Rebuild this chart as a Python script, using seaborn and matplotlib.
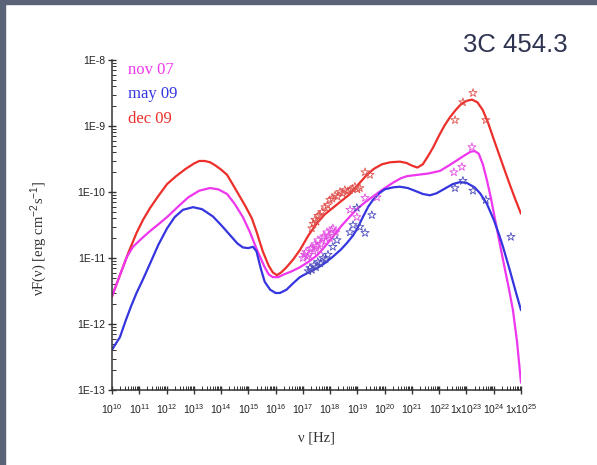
import numpy as np
import pandas as pd
import matplotlib
matplotlib.use("Agg")
import matplotlib.pyplot as plt
import seaborn as sns
from matplotlib.patches import Rectangle
from matplotlib.ticker import FixedLocator, FixedFormatter, NullFormatter

# ---------------- data (log10 values) ----------------
series_names = ["nov 07", "may 09", "dec 09"]

# model curves: log10(nu [Hz]) and log10(nuF(nu) [erg cm^-2 s^-1])
dec09_lognu = [10.0, 10.3, 10.6, 10.9, 11.14, 11.4, 11.7, 12.02, 12.35, 12.7, 13.0, 13.2, 13.4, 13.6,
               13.8, 14.0, 14.22, 14.45, 14.69, 14.9, 15.13, 15.3, 15.53, 15.75, 15.9, 16.05, 16.2,
               16.4, 16.65, 16.89, 17.2, 17.52, 17.8, 18.1, 18.4, 18.73, 19.0, 19.35, 19.6, 19.9,
               20.2, 20.56, 20.8, 21.0, 21.2, 21.4, 21.6, 21.77, 22.0, 22.2, 22.39, 22.6, 22.8,
               23.0, 23.2, 23.4, 23.6, 23.8, 24.0, 24.23, 24.4, 24.6, 24.8, 25.0]
dec09_logf = [-11.58, -11.25, -10.92, -10.62, -10.42, -10.24, -10.06, -9.88, -9.76, -9.65, -9.57, -9.53,
              -9.53, -9.55, -9.6, -9.66, -9.74, -9.9, -10.07, -10.22, -10.4, -10.6, -10.9, -11.12,
              -11.22, -11.26, -11.22, -11.14, -11.02, -10.88, -10.66, -10.47, -10.34, -10.24, -10.14,
              -10.03, -9.9, -9.74, -9.65, -9.58, -9.55, -9.54, -9.56, -9.6, -9.63, -9.58, -9.45,
              -9.33, -9.14, -8.99, -8.87, -8.76, -8.67, -8.62, -8.6, -8.64, -8.76, -8.96, -9.2,
              -9.47, -9.67, -9.9, -10.12, -10.33]

nov07_lognu = [10.0, 10.3, 10.55, 10.77, 11.1, 11.4, 11.7, 12.02, 12.4, 12.8, 13.2, 13.59, 13.9,
               14.22, 14.5, 14.8, 15.05, 15.32, 15.6, 15.75, 15.9, 16.1, 16.3, 16.6, 16.89, 17.2,
               17.52, 17.8, 18.1, 18.4, 18.73, 19.0, 19.3, 19.6, 19.9, 20.3, 20.6, 20.82, 21.2,
               21.6, 22.03, 22.35, 22.65, 22.95, 23.15, 23.3, 23.45, 23.6, 23.75, 23.9, 24.05,
               24.23, 24.4, 24.55, 24.7, 24.85, 25.0]
nov07_logf = [-11.58, -11.25, -10.98, -10.83, -10.7, -10.59, -10.49, -10.38, -10.23, -10.08, -9.98,
              -9.94, -9.96, -10.03, -10.18, -10.38, -10.6, -10.88, -11.14, -11.25, -11.29, -11.29,
              -11.25, -11.2, -11.14, -11.06, -10.96, -10.83, -10.68, -10.52, -10.37, -10.25, -10.15,
              -10.06, -9.97, -9.86, -9.79, -9.76, -9.74, -9.72, -9.68, -9.6, -9.52, -9.44, -9.39,
              -9.38, -9.42, -9.58, -9.82, -10.1, -10.42, -10.8, -11.15, -11.45, -11.78, -12.25, -12.89]

may09_lognu = [10.0, 10.29, 10.5, 10.7, 10.9, 11.14, 11.4, 11.7, 12.02, 12.3, 12.6, 12.97, 13.3,
               13.7, 14.0, 14.3, 14.6, 14.8, 15.0, 15.17, 15.3, 15.45, 15.6, 15.8, 16.0, 16.16,
               16.4, 16.65, 16.89, 17.2, 17.5, 17.8, 18.1, 18.4, 18.6, 18.84, 19.0, 19.2, 19.4,
               19.57, 19.8, 20.0, 20.3, 20.56, 20.85, 21.1, 21.4, 21.66, 21.9, 22.2, 22.5, 22.76,
               23.0, 23.3, 23.5, 23.75, 24.0, 24.2, 24.34, 24.6, 24.8, 25.0]
may09_logf = [-12.39, -12.2, -11.95, -11.73, -11.53, -11.32, -11.08, -10.8, -10.55, -10.38, -10.27,
              -10.23, -10.26, -10.37, -10.5, -10.64, -10.78, -10.84, -10.85, -10.83, -10.9, -11.15,
              -11.36, -11.48, -11.53, -11.53, -11.48, -11.38, -11.29, -11.22, -11.16, -11.08, -10.98,
              -10.87, -10.78, -10.66, -10.55, -10.38, -10.22, -10.12, -10.02, -9.96, -9.93, -9.92,
              -9.94, -9.98, -10.03, -10.05, -10.02, -9.95, -9.88, -9.85, -9.86, -9.93, -10.02,
              -10.18, -10.42, -10.65, -10.83, -11.2, -11.5, -11.79]

# observed points (stars)
dec09_obs_lognu = [17.33, 17.38, 17.44, 17.5, 17.56, 17.63, 17.7, 17.81, 17.9, 17.99, 18.08, 18.18,
                   18.27, 18.36, 18.45, 18.54, 18.64, 18.73, 18.82, 18.91, 19.0, 19.09, 19.28, 19.46,
                   22.58, 22.87, 23.24, 23.71]
dec09_obs_logf = [-10.55, -10.48, -10.42, -10.45, -10.36, -10.35, -10.3, -10.23, -10.2, -10.12, -10.1, -10.05,
                  -10.07, -10.0, -10.02, -9.97, -9.99, -9.97, -9.95, -9.92, -9.96, -9.94, -9.7, -9.74,
                  -8.91, -8.64, -8.5, -8.91]

nov07_obs_lognu = [17.0, 17.06, 17.11, 17.17, 17.22, 17.28, 17.33, 17.39, 17.44, 17.5, 17.55, 17.62,
                   17.66, 17.72, 17.77, 17.83, 17.88, 17.94, 17.99, 18.05, 18.1, 18.21, 18.73, 18.98,
                   19.28, 19.72, 22.54, 22.83, 23.2]
nov07_obs_logf = [-11.0, -10.95, -10.91, -10.98, -10.95, -10.86, -10.85, -10.9, -10.79, -10.82, -10.73, -10.88,
                  -10.79, -10.7, -10.67, -10.75, -10.61, -10.66, -10.7, -10.58, -10.55, -10.61, -10.27, -10.38,
                  -10.09, -10.08, -9.7, -9.62, -9.32]

may09_obs_lognu = [17.2, 17.26, 17.33, 17.41, 17.48, 17.55, 17.64, 17.74, 17.83, 17.92, 18.1, 18.25,
                   18.73, 18.84, 18.98, 19.09, 19.28, 19.53, 22.58, 22.87, 23.24, 23.71, 24.63]
may09_obs_logf = [-11.2, -11.15, -11.18, -11.11, -11.14, -11.06, -11.08, -11.0, -11.02, -10.95, -10.83, -10.73,
                  -10.61, -10.5, -10.24, -10.53, -10.62, -10.35, -9.94, -9.83, -9.98, -10.12, -10.68]

x_tick_labels = ["$10^{10}$", "$10^{11}$", "$10^{12}$", "$10^{13}$", "$10^{14}$", "$10^{15}$",
                 "$10^{16}$", "$10^{17}$", "$10^{18}$", "$10^{19}$", "$10^{20}$", "$10^{21}$",
                 "$10^{22}$", "$1\\mathrm{x}10^{23}$", "$10^{24}$", "$1\\mathrm{x}10^{25}$"]
y_tick_labels = ["1E-13", "1E-12", "1E-11", "1E-10", "1E-9", "1E-8"]

# ---------------- styling ----------------
sns.set_theme(style="white")
plt.rcParams["font.family"] = ["Liberation Sans", "DejaVu Sans"]
plt.rcParams["mathtext.fontset"] = "custom"
plt.rcParams["mathtext.rm"] = "Liberation Sans"
plt.rcParams["mathtext.it"] = "Liberation Sans:italic"

col_line = {"nov 07": "#ee36ee", "may 09": "#3535e0", "dec 09": "#ec2f2a"}
col_star = {"nov 07": "#e24fe2", "may 09": "#4d4dbf", "dec 09": "#e0504c"}

fig = plt.figure(figsize=(5.97, 4.65), dpi=100)
fig.patch.set_facecolor("white")
ax = fig.add_axes([112 / 597, 1 - 390 / 465, (521 - 112) / 597, (390 - 60) / 465])

curves = {
    "nov 07": (nov07_lognu, nov07_logf),
    "may 09": (may09_lognu, may09_logf),
    "dec 09": (dec09_lognu, dec09_logf),
}
obs = {
    "nov 07": (nov07_obs_lognu, nov07_obs_logf),
    "may 09": (may09_obs_lognu, may09_obs_logf),
    "dec 09": (dec09_obs_lognu, dec09_obs_logf),
}

for name in ["dec 09", "nov 07", "may 09"]:
    lx, ly = curves[name]
    df = pd.DataFrame({"nu": 10 ** np.array(lx), "f": 10 ** np.array(ly)})
    sns.lineplot(data=df, x="nu", y="f", ax=ax, color=col_line[name], lw=1.6,
                 sort=False, estimator=None)

for name in ["dec 09", "nov 07", "may 09"]:
    lx, ly = obs[name]
    df = pd.DataFrame({"nu": 10 ** np.array(lx), "f": 10 ** np.array(ly)})
    sns.scatterplot(data=df, x="nu", y="f", ax=ax, marker="*", s=38,
                    facecolors="none", edgecolors=col_star[name], linewidths=0.6, zorder=5)

ax.set_xscale("log")
ax.set_yscale("log")
ax.set_xlim(1e10, 1e25)
ax.set_ylim(1e-13, 1e-8)

# ticks
xmaj = [10.0 ** k for k in range(10, 26)]
ax.xaxis.set_major_locator(FixedLocator(xmaj))
ax.xaxis.set_major_formatter(FixedFormatter(x_tick_labels))
ax.xaxis.set_minor_locator(FixedLocator([m * 10.0 ** k for k in range(10, 25) for m in range(2, 10)]))
ax.xaxis.set_minor_formatter(NullFormatter())
ymaj = [10.0 ** k for k in range(-13, -7)]
ax.yaxis.set_major_locator(FixedLocator(ymaj))
ax.yaxis.set_major_formatter(FixedFormatter(y_tick_labels))
ax.yaxis.set_minor_locator(FixedLocator([m * 10.0 ** k for k in range(-13, -8) for m in range(2, 10)]))
ax.yaxis.set_minor_formatter(NullFormatter())

ax.tick_params(axis="both", which="major", direction="inout", length=6, width=1.0,
               color="#333333", labelsize=7.5, labelcolor="#222222", pad=2)
ax.tick_params(axis="x", which="major", pad=6)
ax.tick_params(axis="both", which="minor", direction="in", length=3, width=0.7, color="#333333")
ax.tick_params(bottom=True, left=True, top=False, right=False, which="both")

for s in ["top", "right"]:
    ax.spines[s].set_visible(False)
for s in ["left", "bottom"]:
    ax.spines[s].set_color("#333333")
    ax.spines[s].set_linewidth(1.1)

ax.set_xlabel("ν [Hz]", family=["Liberation Serif"], fontsize=10.5, color="#333333")
ax.set_ylabel("νF(ν) [erg cm$^{-2}$s$^{-1}$]", family=["Liberation Serif"], fontsize=10.5,
              color="#333333")
ax.xaxis.set_label_coords(0.5, -0.125)
ax.yaxis.set_label_coords(-0.155, 0.46)

# legend as coloured text
for i, name in enumerate(series_names):
    fig.text(128 / 597, 1 - (70 + 24.5 * i) / 465, name, color=col_line[name],
             family=["Liberation Serif"], fontsize=12, va="center", ha="left")

fig.text(515 / 597, 1 - 45 / 465, "3C 454.3", fontsize=18.5, color="#2e3352",
         ha="center", va="center", family=["Liberation Sans"])

# frame
fig.add_artist(Rectangle((0, 1 - 4 / 465), 1, 4 / 465, transform=fig.transFigure,
                         color="#5a6378", zorder=10))
fig.add_artist(Rectangle((0, 0), 5 / 597, 1, transform=fig.transFigure,
                         color="#5a6378", zorder=10))

fig.savefig("out.png", dpi=100)
